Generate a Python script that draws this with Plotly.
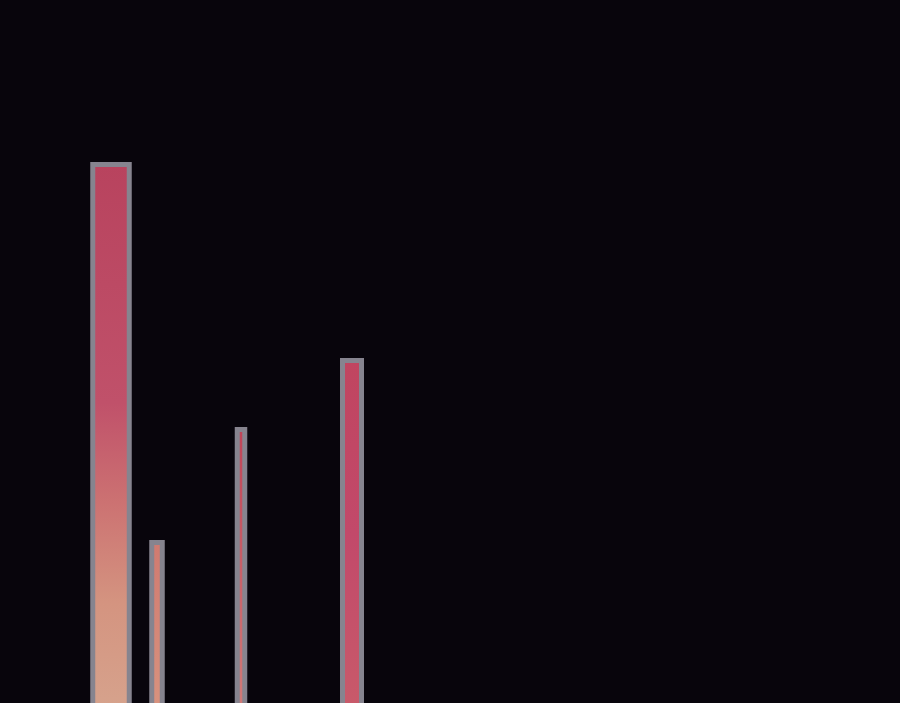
import plotly.graph_objects as go

# ---- data ----
categories = ["A", "B", "C", "D"]
centers = [11.1, 15.7, 24.1, 35.2]      # x position of each bar
widths = [3.65, 1.05, 0.75, 1.9]        # bar widths (variable-width bars)
values = [54.15, 16.35, 27.65, 34.55]   # bar heights

# ---- styles ----
BG = "#08050c"
OUTLINE = "#86848f"
gradients = [
    [[0.0, "#d6a28c"], [0.19, "#d49480"], [0.375, "#cc7272"], [0.56, "#c0516a"], [1.0, "#b8435e"]],
    [[0.0, "#d8927e"], [1.0, "#d07a70"]],
    [[0.0, "#d07a78"], [1.0, "#c04458"]],
    [[0.0, "#c85a6a"], [0.5, "#c2496a"], [1.0, "#c04560"]],
]

fig = go.Figure()
for cat, c, w, v, cs in zip(categories, centers, widths, values, gradients):
    x0, x1 = c - w / 2, c + w / 2
    fig.add_trace(go.Scatter(
        x=[x0, x1, x1, x0, x0],
        y=[0, 0, v, v, 0],
        mode="lines",
        fill="toself",
        fillgradient=dict(type="vertical", colorscale=cs, start=0, stop=v),
        line=dict(color=OUTLINE, width=5),
        name=cat,
        hoverinfo="name+y",
    ))

fig.update_layout(
    width=900, height=703,
    margin=dict(l=0, r=0, t=0, b=0),
    paper_bgcolor=BG, plot_bgcolor=BG,
    showlegend=False,
    xaxis=dict(range=[0, 90], visible=False, fixedrange=True),
    yaxis=dict(range=[0.3, 70.6], visible=False, fixedrange=True),
)
fig.write_html(
    "out.html",
    config={"displayModeBar": False},
    post_script="document.body.style.margin='0';document.body.style.background='%s';document.body.style.overflow='hidden';" % BG,
)
